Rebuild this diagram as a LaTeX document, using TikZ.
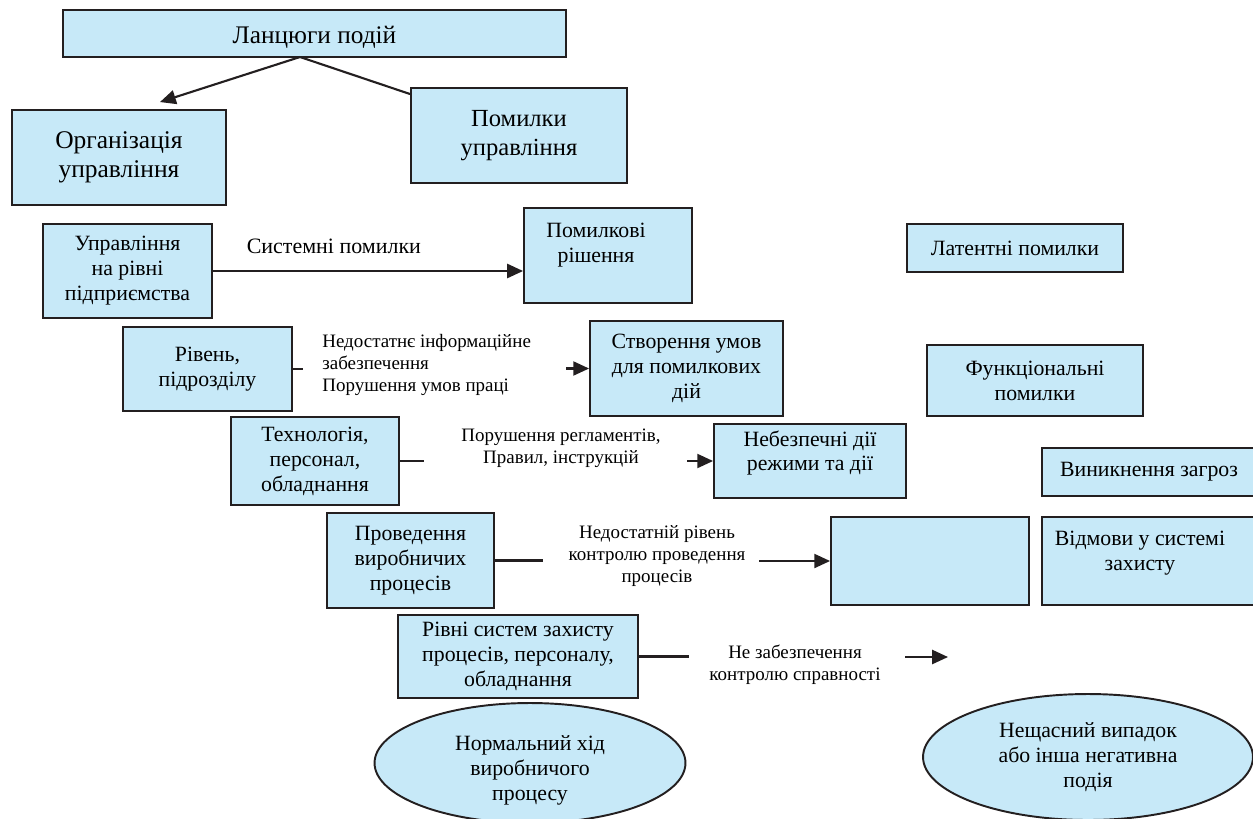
\documentclass[tikz,border=0pt]{standalone}
\usepackage{fontspec}
\setmainfont{Liberation Serif}
\usetikzlibrary{shapes,arrows.meta,positioning}

\definecolor{boxblue}{RGB}{199,233,248}
\definecolor{boxline}{RGB}{35,31,32}

\begin{document}
\begin{tikzpicture}[
    x=0.02cm, y=-0.02cm,
    box/.style={rectangle,fill=boxblue,draw=boxline,line width=1.1pt,align=center,inner sep=0pt,font=\fontsize{12.4}{14.2}\selectfont},
    oval/.style={ellipse,fill=boxblue,draw=boxline,line width=1.1pt,align=center,inner sep=0pt,font=\fontsize{12.4}{14.2}\selectfont},
    txt/.style={align=center,inner sep=0pt,font=\fontsize{12.4}{14.2}\selectfont},
    lbl/.style={align=center,inner sep=0pt,font=\fontsize{10.8}{12.6}\selectfont},
    line/.style={draw=boxline,line width=1.2pt},
    arrow/.style={line,-{Triangle[length=9pt,width=8pt]}}
]
\useasboundingbox (0,0) rectangle (1253,818);

% Заголовок
\node[box, minimum width=10.06cm, minimum height=0.94cm, font=\fontsize{14.4}{16}\selectfont] (title) at (314.5,33.5) {};
\node[txt, font=\fontsize{14.4}{16}\selectfont] (titletxt) at (314.5,37) {Ланцюги подій};

% Другий рівень
\node[box, minimum width=4.28cm, minimum height=1.9cm, font=\fontsize{14.5}{16.2}\selectfont] (org) at (119,157.5) {Організація\\управління};
\node[box, minimum width=4.32cm, minimum height=1.9cm, font=\fontsize{14}{16.2}\selectfont] (pomupr) at (519,135.5) {Помилки\\управління};

% Ліва колонка
\node[box, minimum width=3.38cm, minimum height=1.88cm] (uprriv) at (127.5,271) {Управління\\на рівні\\підприємства};
\node[box, minimum width=3.38cm, minimum height=1.68cm] (riven) at (207.5,369) {Рівень,\\підрозділу};
\node[box, minimum width=3.36cm, minimum height=1.76cm] (tekh) at (315,461) {Технологія,\\персонал,\\обладнання};
\node[box, minimum width=3.34cm, minimum height=1.9cm] (proved) at (410.5,560.5) {Проведення\\виробничих\\процесів};
\node[box, minimum width=4.8cm, minimum height=1.66cm] (rivsys) at (518,656.5) {Рівні систем захисту\\процесів, персоналу,\\обладнання};

% Середня колонка
\node[box, minimum width=3.36cm, minimum height=1.9cm] (pomrish) at (608,255.5) {};
\node[txt] (pomrishtxt) at (596,245) {Помилкові\\рішення};
\node[box, minimum width=3.86cm, minimum height=1.9cm] (stvor) at (686.5,368.5) {Створення умов\\для помилкових\\дій};
\node[box, minimum width=3.84cm, minimum height=1.48cm] (nebez) at (810,461) {};
\node[txt] (nebeztxt) at (810,453) {Небезпечні дії\\режими та дії};
\node[box, minimum width=3.96cm, minimum height=1.76cm] (empty) at (930,561) {};

% Права колонка
\node[box, minimum width=4.32cm, minimum height=0.96cm] (latent) at (1015,248) {Латентні помилки};
\node[box, minimum width=4.32cm, minimum height=1.42cm] (funk) at (1035,380.5) {Функціональні\\помилки};
\node[box, minimum width=4.28cm, minimum height=0.96cm] (vynyk) at (1149,472) {Виникнення загроз};
\node[box, minimum width=4.28cm, minimum height=1.76cm] (vidmov) at (1149,561) {};
\node[txt] (vidmovtxt) at (1140,553) {Відмови у системі\\захисту};

% Еліпси
\node[oval, minimum width=6.22cm, minimum height=2.4cm] (normal) at (530,763) {};
\node[txt] (normaltxt) at (530,770) {Нормальний хід\\виробничого\\процесу};
\node[oval, minimum width=6.6cm, minimum height=2.52cm] (nesh) at (1088,757) {Нещасний випадок\\або інша негативна\\подія};

% Розгалуження від заголовка
\coordinate (fork) at (300,57);
\draw[arrow] (fork) -- ([xshift=0.82cm, yshift=0.14cm]org.north);
\draw[line] (fork) -- ([yshift=-0.14cm]pomupr.north west);

% Зв'язки
\draw[arrow] (uprriv.east) -- node[pos=0.39, above=0.2cm, font=\fontsize{12.5}{14.2}\selectfont] (syslbl) {Системні помилки} (uprriv.east -| pomrish.west);

\draw[line] (riven.east) -- ++(10,0);
\node[lbl, align=left, anchor=west] (infolbl) at (322,365) {Недостатнє інформаційне\\забезпечення\\Порушення умов праці};
\draw[arrow] ([xshift=-0.46cm]stvor.west) -- (stvor.west);

\draw[line] (tekh.east) -- ++(24,0);
\node[lbl] (reglbl) at (561,448) {Порушення регламентів,\\Правил, інструкцій};
\draw[arrow] ([xshift=-0.52cm]nebez.west) -- (nebez.west);

\draw[line] (proved.east) -- ++(48,0);
\node[lbl] (kontrlbl) at (657,556) {Недостатній рівень\\контролю проведення\\процесів};
\draw[arrow] ([xshift=-1.42cm]empty.west) -- (empty.west);

\draw[line] (rivsys.east) -- ++(50,0);
\node[lbl] (sprlbl) at (795,665) {Не забезпечення\\контролю справності};
\coordinate (loose) at (948,657);
\draw[arrow] ([xshift=-0.86cm]loose) -- (loose);

\end{tikzpicture}
\end{document}
